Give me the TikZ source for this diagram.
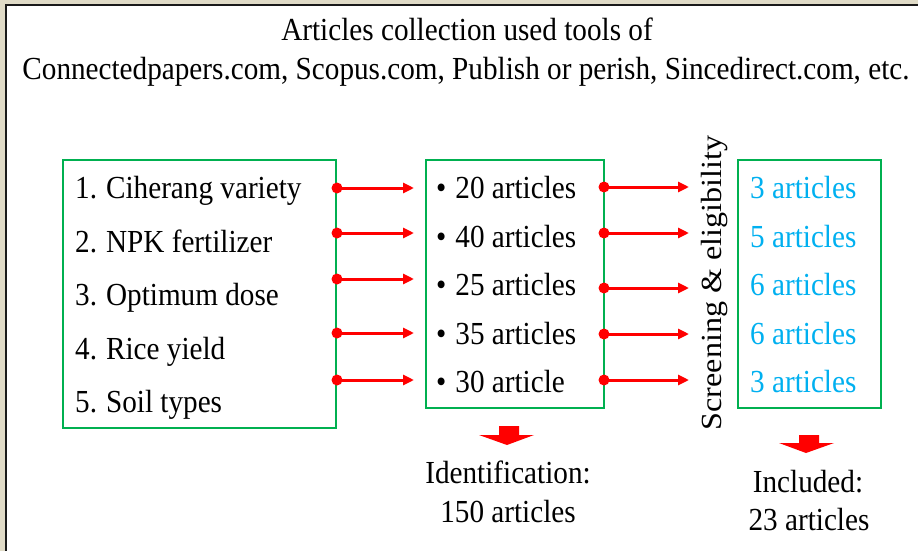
\documentclass[tikz,border=0pt]{standalone}
\usepackage{fontspec}
\setmainfont{Liberation Serif}
\usetikzlibrary{arrows.meta}
\definecolor{frameBeige}{HTML}{E0DBC7}
\definecolor{frameLine}{HTML}{1A1A1A}
\definecolor{boxGreen}{HTML}{00B050}
\definecolor{countCyan}{HTML}{00B0F0}
% slightly tall lettering
\newcommand{\tallTxt}[1]{\scalebox{1}[1.1]{#1}}
\begin{document}
\begin{tikzpicture}[x=1pt,y=-1pt,
  font=\fontsize{29.2}{35}\selectfont,
  txt/.style={inner sep=0pt, anchor=base},
  item/.style={inner sep=0pt, anchor=base west},
  frame/.style={draw=boxGreen, line width=2.2pt},
  link/.style={red, line width=3pt, -{Triangle[length=11pt,width=10pt]}},
  startdot/.style={circle, fill=red, inner sep=0pt, minimum size=11pt},
  blockarrow/.style={fill=red, draw=none}]
\useasboundingbox (0,0) rectangle (918,551);

% page background and frame
\fill[frameBeige] (0,0) rectangle (918,551);
\fill[white] (6,5) rectangle (918,551);
\draw[frameLine, line width=2pt] (6,551) -- (6,5) -- (918,5);

% heading
\node[txt] (title1) at (467,41) {\tallTxt{Articles collection used tools of}};
\node[txt] (title2) at (466,79) {\tallTxt{Connectedpapers.com, Scopus.com, Publish or perish, Sincedirect.com, etc.}};

% boxes
\draw[frame] (63,160) rectangle (336,428);
\draw[frame] (426,160) rectangle (604,408);
\draw[frame] (738,160) rectangle (881,408);

% topics
\node[item] (t1) at (75,198) {\tallTxt{1.\hspace{9pt}Ciherang variety}};
\node[item] (t2) at (75,252) {\tallTxt{2.\hspace{9pt}NPK fertilizer}};
\node[item] (t3) at (75,305) {\tallTxt{3.\hspace{9pt}Optimum dose}};
\node[item] (t4) at (75,359) {\tallTxt{4.\hspace{9pt}Rice yield}};
\node[item] (t5) at (75,412) {\tallTxt{5.\hspace{9pt}Soil types}};

% articles found
\node[item] (a1) at (436,198) {\tallTxt{•\hspace{9pt}20 articles}};
\node[item] (a2) at (436,247) {\tallTxt{•\hspace{9pt}40 articles}};
\node[item] (a3) at (436,295) {\tallTxt{•\hspace{9pt}25 articles}};
\node[item] (a4) at (436,344) {\tallTxt{•\hspace{9pt}35 articles}};
\node[item] (a5) at (436,392) {\tallTxt{•\hspace{9pt}30 article}};

% articles kept
\node[item, text=countCyan] (k1) at (750,198) {\tallTxt{3 articles}};
\node[item, text=countCyan] (k2) at (750,247) {\tallTxt{5 articles}};
\node[item, text=countCyan] (k3) at (750,295) {\tallTxt{6 articles}};
\node[item, text=countCyan] (k4) at (750,344) {\tallTxt{6 articles}};
\node[item, text=countCyan] (k5) at (750,392) {\tallTxt{3 articles}};

% screening label
\node[txt, rotate=90] (screen) at (721,283) {\scalebox{1.1}[1]{Screening \& eligibility}};

% topic -> articles links
\foreach \i/\y in {1/188,2/233,3/279,4/333,5/380}{
  \node[startdot] (p\i) at (337,\y) {};
  \coordinate (q\i) at (414,\y);
  \draw[link] (p\i.center) -- (q\i);
}
% articles -> screening links
\foreach \i/\y in {1/187,2/233,3/288,4/334,5/380}{
  \node[startdot] (r\i) at (604,\y) {};
  \coordinate (u\i) at (689,\y);
  \draw[link] (r\i.center) -- (u\i);
}

% block arrows
\fill[blockarrow] (499,426) -- (519,426) -- (519,435) -- (534,435) -- (507,445)
  -- (479,435) -- (499,435) -- cycle;
\fill[blockarrow] (799,435) -- (819,435) -- (819,443) -- (834,443) -- (806,453)
  -- (779,443) -- (799,443) -- cycle;

% totals
\node[txt] (id1) at (508,483) {\tallTxt{Identification:}};
\node[txt] (id2) at (508,522) {\tallTxt{150 articles}};
\node[txt] (in1) at (808,492) {\tallTxt{Included:}};
\node[txt] (in2) at (809,530) {\tallTxt{23 articles}};
\end{tikzpicture}
\end{document}
